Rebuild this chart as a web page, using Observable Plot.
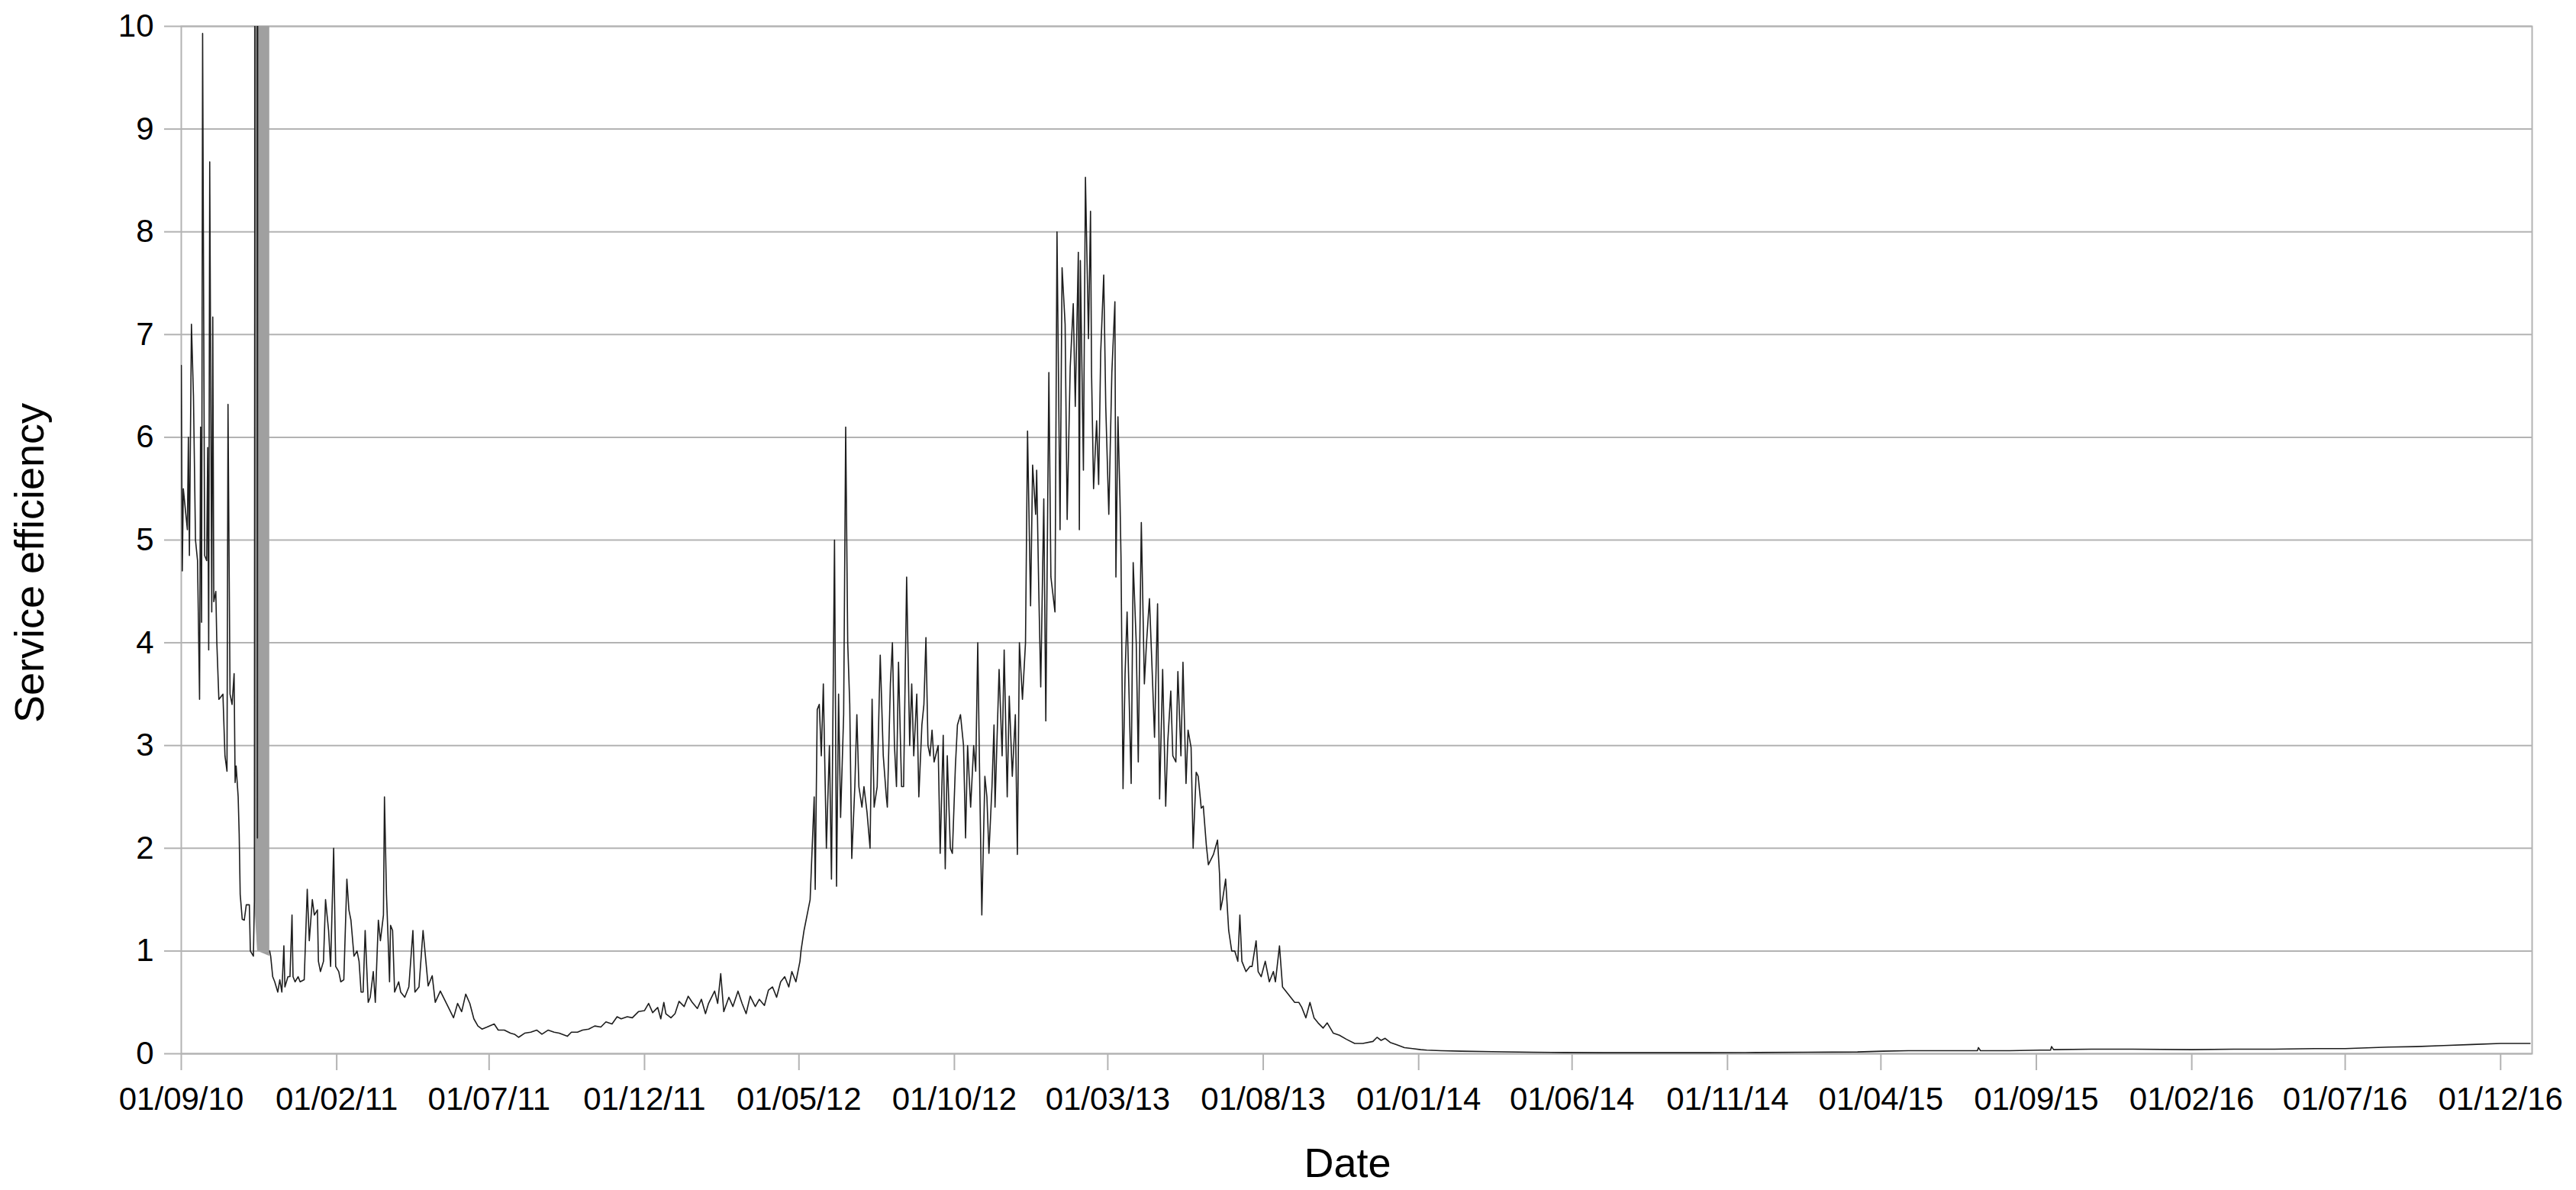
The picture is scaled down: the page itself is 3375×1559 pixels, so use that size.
<!DOCTYPE html>
<html>
<head>
<meta charset="utf-8">
<script src="https://cdn.jsdelivr.net/npm/d3@7"></script>
<script src="https://cdn.jsdelivr.net/npm/@observablehq/plot@0.6"></script>
<style>
  html, body { margin: 0; padding: 0; background: #fff; }
  #chart svg { display: block; }
</style>
</head>
<body>
<div id="chart"></div>
<script>
// ---- Data (date, service efficiency) ----
const readings2010 = [
  ["2010-09-01",6.7],["2010-09-02",4.7],["2010-09-03",5.5],["2010-09-05",5.3],["2010-09-07",5.1],["2010-09-08",6.0],
  ["2010-09-09",4.85],["2010-09-11",7.1],["2010-09-13",6.4],["2010-09-15",5.0],["2010-09-17",4.8],["2010-09-19",3.45],
  ["2010-09-20",6.1],["2010-09-21",4.2],["2010-09-22",9.93],["2010-09-24",4.85],["2010-09-26",4.8],["2010-09-27",5.9],
  ["2010-09-28",3.93],["2010-09-29",8.68],["2010-10-01",4.3],["2010-10-02",7.17],["2010-10-03",4.4],["2010-10-05",4.5],
  ["2010-10-06",4.0],["2010-10-08",3.45],["2010-10-12",3.5],["2010-10-14",2.9],["2010-10-16",2.75],["2010-10-17",6.32],
  ["2010-10-19",3.5],["2010-10-21",3.4],["2010-10-23",3.7],["2010-10-24",2.64],["2010-10-25",2.8],["2010-10-27",2.5],
  ["2010-10-28",2.14],["2010-10-29",1.55],["2010-10-31",1.31],["2010-11-02",1.3],["2010-11-04",1.45],["2010-11-07",1.45],
  ["2010-11-08",1.0],["2010-11-11",0.95],["2010-11-12",1.5],["2010-11-14",40],["2010-11-15",2.1],["2010-11-16",40],
  ["2010-11-17",null],["2010-11-27",1.0],["2010-11-28",0.95],["2010-11-30",0.75],["2010-12-02",0.7],["2010-12-05",0.6],
  ["2010-12-07",0.72],["2010-12-09",0.6],["2010-12-11",1.05],["2010-12-12",0.65],["2010-12-15",0.75],["2010-12-17",0.75],
  ["2010-12-19",1.35],["2010-12-20",0.75],["2010-12-22",0.7],["2010-12-25",0.75],["2010-12-27",0.7],["2010-12-31",0.72]
];
const readings2011 = [
  ["2011-01-03",1.6],["2011-01-05",1.1],["2011-01-08",1.5],["2011-01-10",1.35],["2011-01-13",1.4],["2011-01-14",0.9],
  ["2011-01-16",0.8],["2011-01-19",0.9],["2011-01-21",1.5],["2011-01-24",1.2],["2011-01-26",0.85],["2011-01-29",2.0],
  ["2011-01-31",0.85],["2011-02-03",0.8],["2011-02-05",0.7],["2011-02-08",0.72],["2011-02-11",1.7],["2011-02-13",1.4],
  ["2011-02-15",1.3],["2011-02-18",0.95],["2011-02-21",1.0],["2011-02-23",0.9],["2011-02-25",0.6],["2011-02-27",0.6],
  ["2011-03-01",1.2],["2011-03-04",0.5],["2011-03-06",0.55],["2011-03-09",0.8],["2011-03-11",0.5],["2011-03-14",1.3],
  ["2011-03-16",1.1],["2011-03-19",1.35],["2011-03-20",2.5],["2011-03-22",1.55],["2011-03-24",1.0],["2011-03-25",0.7],
  ["2011-03-26",1.25],["2011-03-28",1.2],["2011-03-30",0.6],["2011-04-03",0.7],["2011-04-05",0.6],["2011-04-09",0.55],
  ["2011-04-13",0.65],["2011-04-17",1.2],["2011-04-19",0.6],["2011-04-23",0.65],["2011-04-27",1.2],["2011-05-02",0.66],
  ["2011-05-06",0.76],["2011-05-09",0.5],["2011-05-14",0.61],["2011-05-18",0.53],["2011-05-22",0.45],["2011-05-27",0.35],
  ["2011-05-31",0.49],["2011-06-04",0.41],["2011-06-08",0.58],["2011-06-12",0.49],["2011-06-16",0.34],["2011-06-20",0.27],
  ["2011-06-24",0.24],["2011-06-29",0.26],["2011-07-06",0.29],["2011-07-10",0.23],["2011-07-16",0.23],["2011-07-22",0.2],
  ["2011-07-26",0.19],["2011-07-30",0.16],["2011-08-05",0.2],["2011-08-11",0.21],["2011-08-17",0.23],["2011-08-22",0.19],
  ["2011-08-28",0.23],["2011-09-03",0.21],["2011-09-08",0.2],["2011-09-16",0.17],["2011-09-20",0.21],["2011-09-26",0.21],
  ["2011-10-01",0.23],["2011-10-07",0.24],["2011-10-13",0.27],["2011-10-19",0.26],["2011-10-24",0.31],["2011-10-30",0.29],
  ["2011-11-04",0.36],["2011-11-08",0.34],["2011-11-14",0.36],["2011-11-19",0.35],["2011-11-25",0.41],["2011-12-01",0.42],
  ["2011-12-05",0.49],["2011-12-09",0.40],["2011-12-14",0.45],["2011-12-17",0.34],["2011-12-20",0.5],["2011-12-22",0.39],
  ["2011-12-27",0.35],["2011-12-31",0.39]
];
const readings2012 = [
  ["2012-01-04",0.51],["2012-01-09",0.46],["2012-01-13",0.56],["2012-01-17",0.5],["2012-01-22",0.44],["2012-01-26",0.53],
  ["2012-01-30",0.39],["2012-02-02",0.49],["2012-02-08",0.61],["2012-02-11",0.49],["2012-02-14",0.78],["2012-02-17",0.41],
  ["2012-02-22",0.55],["2012-02-26",0.46],["2012-03-02",0.61],["2012-03-06",0.49],["2012-03-10",0.39],["2012-03-14",0.56],
  ["2012-03-19",0.46],["2012-03-23",0.53],["2012-03-28",0.47],["2012-04-01",0.62],["2012-04-05",0.65],["2012-04-09",0.55],
  ["2012-04-13",0.7],["2012-04-17",0.75],["2012-04-21",0.65],["2012-04-24",0.8],["2012-04-28",0.7],["2012-05-02",0.9],
  ["2012-05-03",1.0],["2012-05-06",1.2],["2012-05-10",1.4],["2012-05-12",1.5],["2012-05-14",2.0],["2012-05-16",2.5],
  ["2012-05-17",1.6],["2012-05-19",3.35],["2012-05-21",3.4],["2012-05-23",2.9],["2012-05-25",3.6],["2012-05-28",2.0],
  ["2012-05-31",3.0],["2012-06-02",1.7],["2012-06-05",5.0],["2012-06-07",1.63],["2012-06-09",3.5],["2012-06-11",2.3],
  ["2012-06-14",3.3],["2012-06-16",6.1],["2012-06-18",4.0],["2012-06-20",3.4],["2012-06-22",1.9],["2012-06-25",2.6],
  ["2012-06-27",3.3],["2012-06-29",2.6],["2012-07-02",2.4],["2012-07-04",2.6],["2012-07-07",2.35],["2012-07-10",2.0],
  ["2012-07-12",3.45],["2012-07-14",2.4],["2012-07-17",2.6],["2012-07-20",3.88],["2012-07-23",2.9],["2012-07-26",2.5],
  ["2012-07-27",2.4],["2012-07-30",3.6],["2012-08-01",4.0],["2012-08-03",3.0],["2012-08-05",2.6],["2012-08-07",3.81],
  ["2012-08-10",2.6],["2012-08-12",2.6],["2012-08-15",4.64],["2012-08-18",3.0],["2012-08-20",3.6],["2012-08-22",2.9],
  ["2012-08-25",3.5],["2012-08-27",2.5],["2012-08-30",3.2],["2012-09-01",3.4],["2012-09-03",4.05],["2012-09-05",3.0],
  ["2012-09-07",2.9],["2012-09-09",3.15],["2012-09-11",2.84],["2012-09-15",3.0],["2012-09-17",1.95],["2012-09-20",3.1],
  ["2012-09-22",1.8],["2012-09-24",2.9],["2012-09-27",2.0],["2012-09-29",1.95],["2012-10-02",2.8],["2012-10-04",3.2],
  ["2012-10-07",3.3],["2012-10-10",3.0],["2012-10-12",2.1],["2012-10-14",3.0],["2012-10-17",2.4],["2012-10-20",3.0],
  ["2012-10-22",2.75],["2012-10-24",4.0],["2012-10-26",2.6],["2012-10-28",1.35],["2012-10-31",2.7],["2012-11-02",2.5],
  ["2012-11-04",1.95],["2012-11-07",2.6],["2012-11-09",3.2],["2012-11-10",2.4],["2012-11-14",3.74],["2012-11-17",2.9],
  ["2012-11-19",3.93],["2012-11-22",2.5],["2012-11-24",3.48],["2012-11-27",2.7],["2012-11-30",3.3],["2012-12-02",1.94],
  ["2012-12-04",4.0],["2012-12-07",3.45],["2012-12-10",4.0],["2012-12-12",6.06],["2012-12-15",4.36],["2012-12-17",5.73],
  ["2012-12-20",5.25],["2012-12-21",5.68],["2012-12-23",4.54],["2012-12-25",3.57],["2012-12-28",5.4],["2012-12-30",3.24]
];
const readings2013 = [
  ["2013-01-02",6.63],["2013-01-04",4.64],["2013-01-08",4.3],["2013-01-10",8.0],["2013-01-13",5.1],["2013-01-15",7.65],
  ["2013-01-18",7.1],["2013-01-20",5.2],["2013-01-23",6.68],["2013-01-26",7.3],["2013-01-28",6.3],["2013-01-31",7.8],
  ["2013-02-01",5.1],["2013-02-02",7.72],["2013-02-05",5.68],["2013-02-07",8.53],["2013-02-10",6.96],["2013-02-12",8.2],
  ["2013-02-13",6.63],["2013-02-15",5.5],["2013-02-18",6.16],["2013-02-20",5.54],["2013-02-22",6.82],["2013-02-25",7.58],
  ["2013-02-27",6.3],["2013-03-02",5.25],["2013-03-05",6.63],["2013-03-08",7.32],["2013-03-09",4.64],["2013-03-11",6.2],
  ["2013-03-13",5.4],["2013-03-14",4.83],["2013-03-16",2.58],["2013-03-18",3.69],["2013-03-20",4.3],["2013-03-24",2.63],
  ["2013-03-26",4.78],["2013-03-29",4.0],["2013-03-31",2.84],["2013-04-03",5.17],["2013-04-06",3.6],["2013-04-08",3.98],
  ["2013-04-11",4.43],["2013-04-14",3.64],["2013-04-16",3.08],["2013-04-19",4.38],["2013-04-21",2.48],["2013-04-24",3.74],
  ["2013-04-27",2.41],["2013-04-29",3.03],["2013-05-02",3.53],["2013-05-04",2.9],["2013-05-07",2.84],["2013-05-09",3.72],
  ["2013-05-12",2.9],["2013-05-14",3.81],["2013-05-17",2.63],["2013-05-19",3.15],["2013-05-22",2.98],["2013-05-24",2.0],
  ["2013-05-27",2.74],["2013-05-29",2.7],["2013-06-01",2.39],["2013-06-03",2.41],["2013-06-06",2.03],["2013-06-08",1.84],
  ["2013-06-13",1.94],["2013-06-17",2.08],["2013-06-19",1.75],["2013-06-20",1.4],["2013-06-22",1.5],["2013-06-25",1.7],
  ["2013-06-28",1.2],["2013-07-01",1.0],["2013-07-04",1.0],["2013-07-07",0.9],["2013-07-09",1.35],["2013-07-11",0.9],
  ["2013-07-15",0.8],["2013-07-19",0.85],["2013-07-21",0.85],["2013-07-25",1.1],["2013-07-27",0.8],["2013-07-30",0.75],
  ["2013-08-03",0.9],["2013-08-07",0.7],["2013-08-11",0.8],["2013-08-13",0.7],["2013-08-17",1.05],["2013-08-20",0.65],
  ["2013-08-24",0.6],["2013-08-28",0.55],["2013-09-01",0.5],["2013-09-05",0.5],["2013-09-08",0.45],["2013-09-12",0.35],
  ["2013-09-16",0.5],["2013-09-20",0.35],["2013-09-24",0.3],["2013-09-29",0.25],["2013-10-03",0.3],["2013-10-09",0.2],
  ["2013-10-15",0.18],["2013-10-22",0.14],["2013-10-30",0.1],["2013-11-07",0.1],["2013-11-17",0.12],["2013-11-21",0.16],
  ["2013-11-25",0.13],["2013-11-29",0.15],["2013-12-04",0.11],["2013-12-10",0.09],["2013-12-18",0.06],["2013-12-26",0.05]
];
const readings2014to2016 = [
  ["2014-01-03",0.04],["2014-01-09",0.035],["2014-01-23",0.03],["2014-02-12",0.025],["2014-03-14",0.02],["2014-04-23",0.015],
  ["2014-05-23",0.012],["2014-07-02",0.01],["2014-08-21",0.01],["2014-10-10",0.01],["2014-11-29",0.012],["2015-01-18",0.015],
  ["2015-03-09",0.018],["2015-04-03",0.025],["2015-04-28",0.03],["2015-05-28",0.03],["2015-07-05",0.03],["2015-07-06",0.06],
  ["2015-07-08",0.03],["2015-08-06",0.03],["2015-09-05",0.035],["2015-09-15",0.035],["2015-09-16",0.07],["2015-09-18",0.04],
  ["2015-10-25",0.045],["2015-12-04",0.045],["2016-02-01",0.04],["2016-03-13",0.045],["2016-04-22",0.045],["2016-06-01",0.05],
  ["2016-07-01",0.05],["2016-08-13",0.065],["2016-09-09",0.07],["2016-10-06",0.08],["2016-11-03",0.09],["2016-12-01",0.1],
  ["2016-12-18",0.1],["2016-12-30",0.1]
];

// Dense off-scale oscillation in November 2010 (drawn as a min–max band)
const bandDates = ["2010-11-12", "2010-11-15", "2010-11-27"];
const bandLow   = [1.5, 1.0, 0.95];
const bandHigh  = [40, 40, 40];

// Axes
const xDomain = ["2010-09-01", "2017-01-01"];
const xTicks = ["2010-09-01","2011-02-01","2011-07-01","2011-12-01","2012-05-01","2012-10-01","2013-03-01","2013-08-01",
                "2014-01-01","2014-06-01","2014-11-01","2015-04-01","2015-09-01","2016-02-01","2016-07-01","2016-12-01"];
const yTicks = [0, 1, 2, 3, 4, 5, 6, 7, 8, 9, 10];
const xTitle = "Date";
const yTitle = "Service efficiency";

// ---- Build ----
const parse = d3.utcParse("%Y-%m-%d");
const series = [...readings2010, ...readings2011, ...readings2012, ...readings2013, ...readings2014to2016]
  .map(([d, v]) => ({date: parse(d), value: v}));
const band = bandDates.map((d, i) => ({date: parse(d), low: bandLow[i], high: bandHigh[i]}));
const grid = "#b3b3b3";

const chart = Plot.plot({
  width: 3375,
  height: 1559,
  marginLeft: 237,
  marginRight: 58,
  marginTop: 34,
  marginBottom: 179,
  style: {fontFamily: "'Liberation Sans', Arial, sans-serif", fontSize: "42px", background: "#fff", color: "#000"},
  x: {type: "utc", domain: xDomain.map(parse)},
  y: {domain: [0, 10]},
  marks: [
    Plot.ruleY(yTicks, {stroke: grid, strokeWidth: 2}),
    Plot.frame({stroke: grid, strokeWidth: 2}),
    Plot.areaY(band, {x: "date", y1: "low", y2: "high", fill: "#a0a0a0", clip: true}),
    Plot.line(series, {x: "date", y: "value", stroke: "#1e1e1e", strokeWidth: 1.6, clip: true}),
    Plot.axisY({ticks: yTicks, tickSize: 22, tickPadding: 14, stroke: grid, strokeWidth: 2, fill: "#000", label: null}),
    Plot.axisX({ticks: xTicks.map(parse), tickFormat: d3.utcFormat("%d/%m/%y"), tickSize: 22, tickPadding: 22,
                stroke: grid, strokeWidth: 2, fill: "#000", label: null}),
    Plot.text([xTitle], {frameAnchor: "bottom", dx: -12, dy: 144, textAnchor: "middle", lineAnchor: "middle",
                         fontSize: 54, fill: "#000"}),
    Plot.text([yTitle], {frameAnchor: "left", dx: -198, dy: 30, rotate: -90, textAnchor: "middle", lineAnchor: "middle",
                         fontSize: 54, fill: "#000"})
  ]
});
document.getElementById("chart").appendChild(chart);
</script>
</body>
</html>
